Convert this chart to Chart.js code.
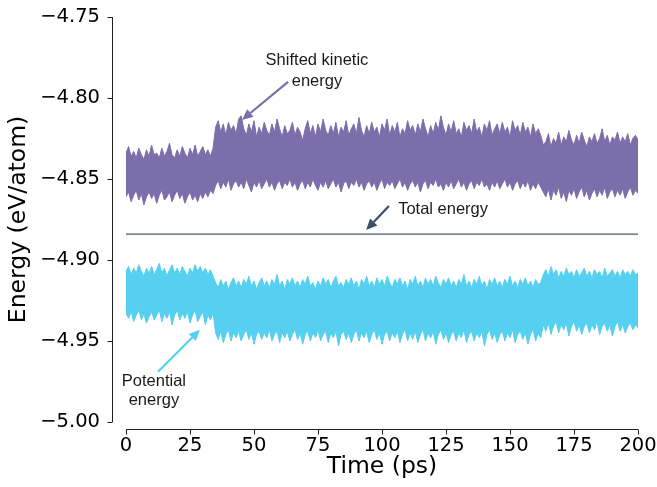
<!DOCTYPE html>
<html>
<head>
<meta charset="utf-8">
<script src="https://cdn.jsdelivr.net/npm/chart.js@4"></script>
<style>
  html, body { margin: 0; padding: 0; background: #fff; }
  canvas { display: block; }
</style>
</head>
<body>
<canvas id="energyChart" width="657" height="487"></canvas>
<script>
// Shifted kinetic energy envelope (eV/atom), one sample per ps, 0..200 ps
let kinHi = [
  -4.834,-4.830,-4.836,-4.833,-4.837,-4.831,-4.835,-4.838,-4.832,-4.836,
  -4.829,-4.835,-4.834,-4.837,-4.831,-4.836,-4.833,-4.828,-4.835,-4.837,
  -4.832,-4.836,-4.830,-4.834,-4.837,-4.831,-4.835,-4.829,-4.836,-4.833,
  -4.830,-4.835,-4.832,-4.836,-4.831,
  -4.818,-4.814,-4.821,-4.816,-4.823,-4.815,-4.820,-4.817,-4.822,-4.813,
  -4.811,-4.819,-4.823,-4.816,-4.821,-4.814,-4.824,-4.818,-4.822,-4.815,
  -4.820,-4.823,-4.816,-4.821,-4.813,-4.819,-4.824,-4.817,-4.822,-4.820,
  -4.815,-4.823,-4.818,-4.821,-4.826,-4.819,-4.814,-4.822,-4.817,-4.824,
  -4.816,-4.821,-4.813,-4.820,-4.823,-4.817,-4.822,-4.815,-4.824,-4.818,
  -4.821,-4.814,-4.823,-4.819,-4.816,-4.822,-4.812,-4.820,-4.824,-4.817,
  -4.822,-4.815,-4.821,-4.818,-4.824,-4.816,-4.820,-4.813,-4.823,-4.817,
  -4.821,-4.815,-4.824,-4.819,-4.822,-4.814,-4.820,-4.817,-4.823,-4.816,
  -4.821,-4.813,-4.819,-4.824,-4.817,-4.822,-4.815,-4.820,-4.811,-4.818,
  -4.823,-4.816,-4.821,-4.814,-4.822,-4.819,-4.824,-4.815,-4.820,-4.817,
  -4.822,-4.813,-4.821,-4.818,-4.824,-4.816,-4.820,-4.814,-4.823,-4.819,
  -4.816,-4.822,-4.815,-4.821,-4.818,-4.824,-4.814,-4.820,-4.817,-4.823,
  -4.815,-4.821,-4.818,-4.824,-4.816,-4.822,-4.819,-4.823,
  -4.829,-4.827,-4.822,-4.830,-4.825,-4.828,-4.821,-4.829,-4.824,-4.827,
  -4.820,-4.826,-4.829,-4.823,-4.828,-4.821,-4.826,-4.830,-4.824,-4.827,
  -4.822,-4.828,-4.825,-4.819,-4.827,-4.823,-4.829,-4.824,-4.826,-4.821,
  -4.828,-4.824,-4.827,-4.822,-4.829,-4.825,-4.823,-4.826
];
let kinLo = [
  -4.861,-4.858,-4.864,-4.860,-4.857,-4.863,-4.859,-4.866,-4.861,-4.858,
  -4.862,-4.859,-4.865,-4.860,-4.857,-4.863,-4.861,-4.858,-4.864,-4.860,
  -4.857,-4.862,-4.859,-4.865,-4.861,-4.858,-4.863,-4.860,-4.864,-4.859,
  -4.862,-4.858,-4.861,-4.857,-4.859,
  -4.854,-4.851,-4.856,-4.852,-4.855,-4.850,-4.857,-4.853,-4.851,-4.855,
  -4.852,-4.856,-4.850,-4.854,-4.858,-4.852,-4.855,-4.851,-4.856,-4.853,
  -4.850,-4.855,-4.852,-4.857,-4.853,-4.851,-4.856,-4.852,-4.854,-4.850,
  -4.855,-4.852,-4.857,-4.853,-4.851,-4.856,-4.852,-4.855,-4.850,-4.854,
  -4.857,-4.852,-4.855,-4.851,-4.856,-4.853,-4.850,-4.855,-4.852,-4.858,
  -4.853,-4.851,-4.856,-4.852,-4.854,-4.850,-4.855,-4.852,-4.857,-4.853,
  -4.851,-4.855,-4.852,-4.857,-4.853,-4.850,-4.856,-4.852,-4.854,-4.851,
  -4.856,-4.853,-4.850,-4.855,-4.852,-4.857,-4.853,-4.851,-4.855,-4.852,
  -4.858,-4.853,-4.851,-4.856,-4.852,-4.854,-4.850,-4.855,-4.853,-4.857,
  -4.852,-4.855,-4.851,-4.856,-4.853,-4.850,-4.855,-4.852,-4.857,-4.853,
  -4.851,-4.856,-4.852,-4.854,-4.850,-4.855,-4.853,-4.857,-4.852,-4.855,
  -4.851,-4.856,-4.853,-4.850,-4.855,-4.852,-4.857,-4.853,-4.851,-4.856,
  -4.852,-4.855,-4.851,-4.857,-4.853,-4.856,-4.852,-4.855,
  -4.858,-4.861,-4.856,-4.863,-4.857,-4.860,-4.855,-4.862,-4.858,-4.864,
  -4.857,-4.860,-4.856,-4.862,-4.858,-4.855,-4.861,-4.857,-4.863,-4.859,
  -4.856,-4.861,-4.857,-4.860,-4.855,-4.862,-4.858,-4.856,-4.861,-4.857,
  -4.860,-4.856,-4.862,-4.858,-4.855,-4.860,-4.857,-4.859
];

// Potential energy envelope (eV/atom)
let potHi = [
  -4.907,-4.904,-4.909,-4.905,-4.908,-4.903,-4.907,-4.910,-4.905,-4.908,
  -4.904,-4.909,-4.906,-4.902,-4.908,-4.905,-4.910,-4.906,-4.903,-4.908,
  -4.905,-4.909,-4.904,-4.907,-4.910,-4.905,-4.908,-4.903,-4.907,-4.904,
  -4.908,-4.905,-4.909,-4.906,-4.910,
  -4.914,-4.917,-4.912,-4.916,-4.913,-4.918,-4.914,-4.911,-4.916,-4.913,
  -4.917,-4.912,-4.915,-4.910,-4.916,-4.913,-4.918,-4.914,-4.911,-4.916,
  -4.913,-4.917,-4.912,-4.915,-4.909,-4.916,-4.913,-4.918,-4.912,-4.915,
  -4.911,-4.916,-4.913,-4.917,-4.912,-4.915,-4.910,-4.916,-4.914,-4.918,
  -4.913,-4.916,-4.911,-4.915,-4.912,-4.917,-4.913,-4.910,-4.916,-4.914,
  -4.917,-4.912,-4.915,-4.911,-4.916,-4.913,-4.918,-4.912,-4.915,-4.910,
  -4.916,-4.913,-4.917,-4.911,-4.915,-4.912,-4.916,-4.910,-4.914,-4.917,
  -4.912,-4.915,-4.911,-4.916,-4.913,-4.918,-4.912,-4.915,-4.910,-4.916,
  -4.913,-4.917,-4.911,-4.915,-4.912,-4.916,-4.910,-4.914,-4.917,-4.912,
  -4.915,-4.911,-4.916,-4.913,-4.917,-4.912,-4.915,-4.909,-4.916,-4.913,
  -4.917,-4.912,-4.915,-4.910,-4.916,-4.913,-4.918,-4.912,-4.915,-4.911,
  -4.916,-4.913,-4.917,-4.912,-4.915,-4.910,-4.916,-4.913,-4.917,-4.912,
  -4.915,-4.911,-4.916,-4.913,-4.917,-4.912,-4.915,-4.914,
  -4.909,-4.906,-4.910,-4.904,-4.909,-4.906,-4.911,-4.907,-4.910,-4.905,
  -4.909,-4.907,-4.911,-4.906,-4.910,-4.908,-4.905,-4.910,-4.907,-4.911,
  -4.906,-4.909,-4.907,-4.911,-4.905,-4.910,-4.908,-4.906,-4.910,-4.907,
  -4.911,-4.906,-4.909,-4.907,-4.910,-4.906,-4.909,-4.908
];
let potLo = [
  -4.933,-4.936,-4.932,-4.938,-4.934,-4.931,-4.937,-4.933,-4.939,-4.935,
  -4.932,-4.937,-4.934,-4.931,-4.938,-4.933,-4.936,-4.932,-4.940,-4.934,
  -4.931,-4.937,-4.933,-4.936,-4.932,-4.939,-4.934,-4.931,-4.938,-4.935,
  -4.932,-4.940,-4.934,-4.937,-4.933,
  -4.945,-4.949,-4.944,-4.951,-4.946,-4.943,-4.950,-4.945,-4.948,-4.944,
  -4.950,-4.946,-4.943,-4.949,-4.945,-4.952,-4.946,-4.944,-4.949,-4.945,
  -4.948,-4.943,-4.950,-4.946,-4.944,-4.951,-4.945,-4.948,-4.944,-4.950,
  -4.946,-4.943,-4.949,-4.945,-4.952,-4.946,-4.944,-4.950,-4.945,-4.948,
  -4.943,-4.950,-4.946,-4.944,-4.951,-4.945,-4.948,-4.944,-4.953,-4.946,
  -4.944,-4.949,-4.945,-4.951,-4.946,-4.943,-4.950,-4.945,-4.948,-4.944,
  -4.951,-4.946,-4.943,-4.949,-4.945,-4.952,-4.946,-4.944,-4.950,-4.945,
  -4.948,-4.944,-4.951,-4.946,-4.943,-4.950,-4.945,-4.949,-4.944,-4.951,
  -4.946,-4.943,-4.950,-4.945,-4.948,-4.944,-4.952,-4.946,-4.943,-4.949,
  -4.945,-4.951,-4.946,-4.944,-4.950,-4.945,-4.948,-4.943,-4.951,-4.946,
  -4.944,-4.950,-4.945,-4.948,-4.944,-4.953,-4.946,-4.943,-4.949,-4.945,
  -4.951,-4.946,-4.944,-4.950,-4.945,-4.948,-4.943,-4.951,-4.946,-4.944,
  -4.949,-4.945,-4.952,-4.946,-4.943,-4.950,-4.945,-4.948,
  -4.940,-4.944,-4.939,-4.946,-4.941,-4.938,-4.945,-4.940,-4.943,-4.939,
  -4.947,-4.941,-4.938,-4.944,-4.940,-4.946,-4.941,-4.939,-4.945,-4.940,
  -4.943,-4.938,-4.946,-4.941,-4.939,-4.944,-4.940,-4.947,-4.941,-4.938,
  -4.944,-4.940,-4.945,-4.941,-4.939,-4.943,-4.940,-4.942
];

// Total energy stays flat over the run
let totalTime = [0, 200];
let totalEnergy = [-4.884, -4.884];

// One sample per picosecond
let timePs = kinHi.map((_, i) => i);

let yTicks = [-5.00, -4.95, -4.90, -4.85, -4.80, -4.75];
let xTicks = [0, 25, 50, 75, 100, 125, 150, 175, 200];

const PURPLE = '#7b6eaa';
const CYAN = '#55d0f0';
const SLATE = '#4a5a72';

function toPoints(xs, ys) {
    return xs.map((x, i) => ({x: x, y: ys[i]}));
}

// Text + arrow callouts, in data coordinates
let callouts = [
    {lines: ['Shifted kinetic', 'energy'], tx: 74.6, ty: [-4.777, -4.7895], align: 'center',
     from: [63.3, -4.790], to: [45.3, -4.8136], color: PURPLE},
    {lines: ['Total energy'], tx: 106.3, ty: [-4.869], align: 'left',
     from: [102.7, -4.8667], to: [93.8, -4.8815], color: '#3e4e66'},
    {lines: ['Potential', 'energy'], tx: 10.9, ty: [-4.975, -4.9865], align: 'center',
     from: [12.5, -4.969], to: [28.9, -4.943], color: CYAN}
];

function drawArrow(ctx, x0, y0, x1, y1, color) {
    let ang = Math.atan2(y1 - y0, x1 - x0);
    let headLen = 11, headW = 5;
    let bx = x1 - headLen * Math.cos(ang);
    let by = y1 - headLen * Math.sin(ang);
    ctx.strokeStyle = color;
    ctx.fillStyle = color;
    ctx.lineWidth = 2.2;
    ctx.beginPath();
    ctx.moveTo(x0, y0);
    ctx.lineTo(bx, by);
    ctx.stroke();
    ctx.beginPath();
    ctx.moveTo(x1, y1);
    ctx.lineTo(bx + headW * Math.sin(ang), by - headW * Math.cos(ang));
    ctx.lineTo(bx - headW * Math.sin(ang), by + headW * Math.cos(ang));
    ctx.closePath();
    ctx.fill();
}

const calloutPlugin = {
    id: 'callouts',
    afterDatasetsDraw(chart) {
        let ctx = chart.ctx;
        let xs = chart.scales.x, ys = chart.scales.y;
        ctx.save();
        callouts.forEach(c => {
            drawArrow(ctx, xs.getPixelForValue(c.from[0]), ys.getPixelForValue(c.from[1]),
                      xs.getPixelForValue(c.to[0]), ys.getPixelForValue(c.to[1]), c.color);
            ctx.fillStyle = '#1a1a1a';
            ctx.font = '16.5px "Liberation Sans", Arial, sans-serif';
            ctx.textAlign = c.align;
            ctx.textBaseline = 'middle';
            c.lines.forEach((t, i) => {
                ctx.fillText(t, xs.getPixelForValue(c.tx), ys.getPixelForValue(c.ty[i]));
            });
        });
        ctx.restore();
    }
};

// Detached, trimmed spines with outward tick marks
const spinePlugin = {
    id: 'spines',
    afterDraw(chart) {
        let ctx = chart.ctx;
        let area = chart.chartArea;
        let xs = chart.scales.x, ys = chart.scales.y;
        let sx = Math.round(area.left - 14) + 0.5;
        let sy = Math.round(area.bottom + 7) + 0.5;
        ctx.save();
        ctx.strokeStyle = '#1f1f1f';
        ctx.lineWidth = 1;
        ctx.beginPath();
        ctx.moveTo(sx, ys.getPixelForValue(-5.0));
        ctx.lineTo(sx, ys.getPixelForValue(-4.75));
        yTicks.forEach(v => {
            let py = Math.round(ys.getPixelForValue(v)) + 0.5;
            ctx.moveTo(sx - 5, py);
            ctx.lineTo(sx, py);
        });
        ctx.moveTo(xs.getPixelForValue(0), sy);
        ctx.lineTo(xs.getPixelForValue(200), sy);
        xTicks.forEach(v => {
            let px = Math.round(xs.getPixelForValue(v)) + 0.5;
            ctx.moveTo(px, sy);
            ctx.lineTo(px, sy + 5);
        });
        ctx.stroke();
        ctx.restore();
    }
};

// keep the plot box fixed: no extra room for overhanging tick labels
function noScalePadding(s) {
    s.paddingTop = 0;
    s.paddingBottom = 0;
    s.paddingLeft = 0;
    s.paddingRight = 0;
}

let ctx = document.getElementById('energyChart').getContext('2d');

let chart = new Chart(ctx, {
    type: 'line',
    data: {
        datasets: [
            {
                label: 'Shifted kinetic energy',
                data: toPoints(timePs, kinHi),
                borderColor: PURPLE,
                backgroundColor: PURPLE,
                borderWidth: 1,
                pointRadius: 0,
                fill: '+1'
            },
            {
                label: 'Shifted kinetic energy (low)',
                data: toPoints(timePs, kinLo),
                borderColor: PURPLE,
                borderWidth: 1,
                pointRadius: 0,
                fill: false
            },
            {
                label: 'Potential energy',
                data: toPoints(timePs, potHi),
                borderColor: CYAN,
                backgroundColor: CYAN,
                borderWidth: 1,
                pointRadius: 0,
                fill: '+1'
            },
            {
                label: 'Potential energy (low)',
                data: toPoints(timePs, potLo),
                borderColor: CYAN,
                borderWidth: 1,
                pointRadius: 0,
                fill: false
            },
            {
                label: 'Total energy',
                data: toPoints(totalTime, totalEnergy),
                borderColor: SLATE,
                borderWidth: 1.2,
                pointRadius: 0,
                fill: false
            }
        ]
    },
    options: {
        responsive: false,
        animation: false,
        devicePixelRatio: 1,
        layout: {padding: {left: 0, right: 19, top: 17, bottom: 0}},
        plugins: {
            legend: {display: false},
            tooltip: {enabled: false}
        },
        elements: {line: {tension: 0}},
        scales: {
            x: {
                type: 'linear',
                min: 0,
                max: 200,
                afterFit: s => { s.height = 65; noScalePadding(s); },
                grid: {display: false, drawTicks: false},
                border: {display: false},
                ticks: {
                    stepSize: 25,
                    autoSkip: false,
                    maxRotation: 0,
                    padding: 12,
                    color: '#000',
                    font: {family: '"DejaVu Sans"', size: 19.5}
                },
                title: {
                    display: true,
                    text: 'Time (ps)',
                    color: '#000',
                    font: {family: '"DejaVu Sans"', size: 23.5},
                    padding: {top: 0, bottom: 6}
                }
            },
            y: {
                min: -5.0,
                max: -4.75,
                afterFit: s => { s.width = 126; noScalePadding(s); },
                grid: {display: false, drawTicks: false},
                border: {display: false},
                ticks: {
                    stepSize: 0.05,
                    padding: 26,
                    color: '#000',
                    font: {family: '"DejaVu Sans"', size: 19.5},
                    callback: v => v.toFixed(2).replace('-', '\u2212')
                },
                title: {
                    display: true,
                    text: 'Energy (eV/atom)',
                    color: '#000',
                    font: {family: '"DejaVu Sans"', size: 23.5},
                    padding: {top: 5, bottom: 0}
                }
            }
        }
    },
    plugins: [calloutPlugin, spinePlugin]
});
</script>
</body>
</html>
